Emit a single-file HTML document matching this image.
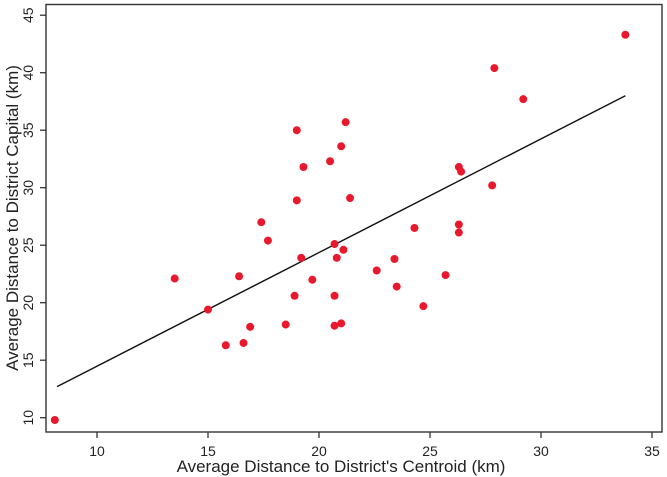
<!DOCTYPE html>
<html><head><meta charset="utf-8"><style>
html,body{margin:0;padding:0;background:#fff;}
svg{display:block;font-family:"Liberation Sans",Arial,sans-serif;}
</style></head><body>
<svg id="chart" width="667" height="477" viewBox="0 0 667 477">
<rect x="46" y="4.5" width="616" height="427.5" fill="none" stroke="#333" stroke-width="1.4"/>
<g id="xticks"></g>
<g id="yticks"></g>
<g id="line"></g>
<g id="pts"></g>
<text x="341" y="472" font-size="17" text-anchor="middle" fill="#222">Average Distance to District's Centroid (km)</text>
<text transform="translate(18,218) rotate(-90)" font-size="17" text-anchor="middle" fill="#222">Average Distance to District Capital (km)</text>
</svg>
<script>
const xTicks=[10,15,20,25,30,35];
const yTicks=[10,15,20,25,30,35,40,45];
const xs=[8.1,13.5,15,15.8,16.4,16.6,16.9,17.4,17.7,18.5,18.9,19.0,19.0,19.2,19.3,19.7,20.5,20.7,20.7,20.7,20.8,21.0,21.0,21.1,21.2,21.4,22.6,23.4,23.5,24.3,24.7,25.7,26.3,26.3,26.3,26.4,27.8,27.9,29.2,33.8];
const ys=[9.8,22.1,19.4,16.3,22.3,16.5,17.9,27,25.4,18.1,20.6,35,28.9,23.9,31.8,22,32.3,25.1,20.6,18.0,23.9,33.6,18.2,24.6,35.7,29.1,22.8,23.8,21.4,26.5,19.7,22.4,31.8,26.8,26.1,31.4,30.2,40.4,37.7,43.3];
const fitX=[8.2,33.8];
const fitY=[12.7,38.0];
const NS="http://www.w3.org/2000/svg";
const X=v=>97+(v-10)*22.2;
const Y=v=>417.7-(v-10)*11.5;
function mk(t,a,p){const e=document.createElementNS(NS,t);for(const k in a)e.setAttribute(k,a[k]);p.appendChild(e);return e;}
const gx=document.getElementById('xticks');
xTicks.forEach(v=>{
 const l=mk('line',{x1:X(v),x2:X(v),y1:432,y2:438,stroke:'#333','stroke-width':1.3},gx);
 
 
 const t=mk('text',{x:X(v),y:456,'font-size':14,'text-anchor':'middle',fill:'#222'},gx);
 t.textContent=v;
 
 
});
const gy=document.getElementById('yticks');
yTicks.forEach(v=>{
 const l=mk('line',{x1:40,x2:46,y1:Y(v),y2:Y(v),stroke:'#333','stroke-width':1.3},gy);
 
 
 const t=mk('text',{transform:`translate(33,${Y(v)}) rotate(-90)`,'font-size':14,'text-anchor':'middle',fill:'#222'},gy);
 t.textContent=v;
 
 
});
const ln=mk('line',{x1:X(fitX[0]),y1:Y(fitY[0]),x2:X(fitX[1]),y2:Y(fitY[1]),stroke:'#111','stroke-width':1.4},document.getElementById('line'));


const gp=document.getElementById('pts');
xs.forEach((v,i)=>{
 const c=mk('circle',{cx:X(v),cy:Y(ys[i]),r:4,fill:'#e8192c'},gp);
 
 
});
</script>
</body></html>
